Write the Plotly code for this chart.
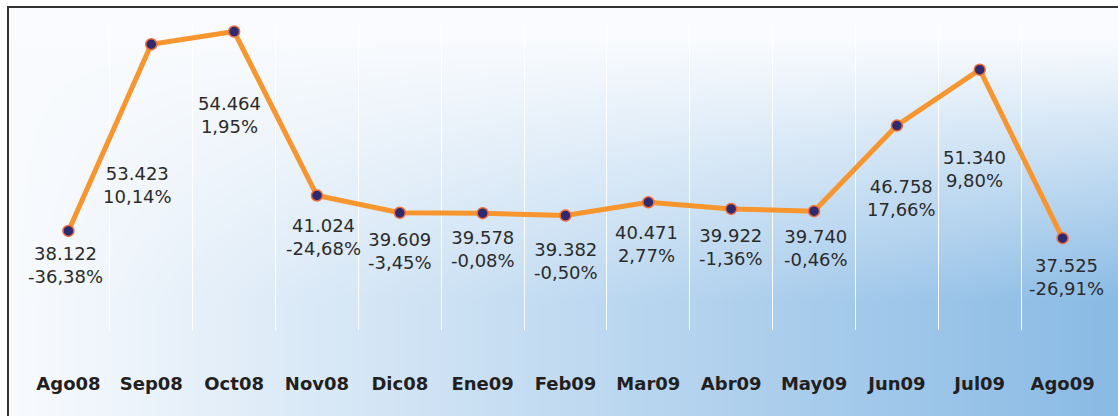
import base64, struct, zlib
import numpy as np
import plotly.graph_objects as go

# ---------------- data ----------------
months = ["Ago08", "Sep08", "Oct08", "Nov08", "Dic08", "Ene09", "Feb09",
          "Mar09", "Abr09", "May09", "Jun09", "Jul09", "Ago09"]
values = [38122, 53423, 54464, 41024, 39609, 39578, 39382,
          40471, 39922, 39740, 46758, 51340, 37525]
pct_change = [-36.38, 10.14, 1.95, -24.68, -3.45, -0.08, -0.50,
              2.77, -1.36, -0.46, 17.66, 9.80, -26.91]

# label placement (style): px below the point, px horizontal shift
label_dy = [34, 141, 83, 41, 38, 36, 45, 42, 38, 37, 72, 99, 39]
label_dx = [-3, -14, -5, 7, 0, 0, 0, -2, 0, 2, 5, -5, 4]

W, H = 1118, 416
ML, MR, MT, MB = 27, 14, 25, 86
PW, PH = W - ML - MR, H - MT - MB


def fmt_val(v):
    return f"{v:,}".replace(",", ".")


def fmt_pct(p):
    return f"{p:.2f}".replace(".", ",") + "%"


# ---------------- background gradient image ----------------
def make_png(rgb):
    h, w, _ = rgb.shape
    raw = b"".join(b"\x00" + rgb[i].tobytes() for i in range(h))

    def chunk(tag, data):
        c = struct.pack(">I", len(data)) + tag + data
        return c + struct.pack(">I", zlib.crc32(tag + data) & 0xFFFFFFFF)

    png = b"\x89PNG\r\n\x1a\n"
    png += chunk(b"IHDR", struct.pack(">IIBBBBB", w, h, 8, 2, 0, 0, 0))
    png += chunk(b"IDAT", zlib.compress(raw, 9))
    png += chunk(b"IEND", b"")
    return "data:image/png;base64," + base64.b64encode(png).decode()


xs = np.arange(W)[None, :].astype(float)
ys = np.arange(H)[:, None].astype(float)
u = np.clip((xs - 8) / (1110 - 8), 0, 1)
s = np.clip((ys - 40) / (300 - 40), 0, 1)
t = u * s
c0 = np.array([249, 251, 254], float)
c1 = np.array([138, 187, 229], float)
img = c0[None, None, :] + (c1 - c0)[None, None, :] * t[:, :, None]
img[:, :8, :] = 255
img[:7, :, :] = 255
bg_src = make_png(np.clip(img, 0, 255).astype(np.uint8))

# ---------------- figure ----------------
fig = go.Figure()
fig.add_trace(go.Scatter(
    x=months, y=values, mode="lines+markers",
    line=dict(color="#F7962F", width=5),
    marker=dict(size=11, color="#2D2A70", line=dict(color="#F26B3A", width=1.5)),
    hoverinfo="skip", showlegend=False,
))

for m, v, p, dy, dx in zip(months, values, pct_change, label_dy, label_dx):
    fig.add_annotation(
        x=m, y=v, text=f"{fmt_val(v)}<br>{fmt_pct(p)}",
        showarrow=False, yshift=-dy, xshift=dx,
        font=dict(family="DejaVu Sans", size=18, color="#2b2b2b"),
        xanchor="center", yanchor="middle",
    )

fig.add_layout_image(dict(
    source=bg_src, xref="paper", yref="paper",
    x=-ML / PW, y=1 + MT / PH, sizex=W / PW, sizey=H / PH,
    xanchor="left", yanchor="top", sizing="stretch", layer="below",
))

# frame (cropped at right/bottom as in the reference)
fig.add_shape(type="rect", xref="paper", yref="paper",
              x0=(8 - ML) / PW, x1=1.2, y0=-0.6, y1=1 + (MT - 7) / PH,
              line=dict(color="#333333", width=2), fillcolor="rgba(0,0,0,0)",
              layer="above")

fig.update_layout(
    width=W, height=H, autosize=False,
    margin=dict(l=ML, r=MR, t=MT, b=MB),
    paper_bgcolor="white", plot_bgcolor="rgba(0,0,0,0)",
    xaxis=dict(
        type="category", categoryarray=months, categoryorder="array",
        range=[-0.5, len(months) - 0.5],
        tickson="boundaries", showgrid=True, gridcolor="white", gridwidth=1,
        ticks="", showline=False, zeroline=False,
        ticklabelstandoff=41,
        tickfont=dict(family="DejaVu Sans", size=18, color="#231f20", weight="bold"),
        fixedrange=True,
    ),
    yaxis=dict(range=[30000, 55000], showgrid=False, showticklabels=False,
               zeroline=False, showline=False, fixedrange=True),
)

fig.write_html("out.html", config={"displayModeBar": False},
               post_script="document.body.style.margin='0';document.body.style.overflow='hidden';")
